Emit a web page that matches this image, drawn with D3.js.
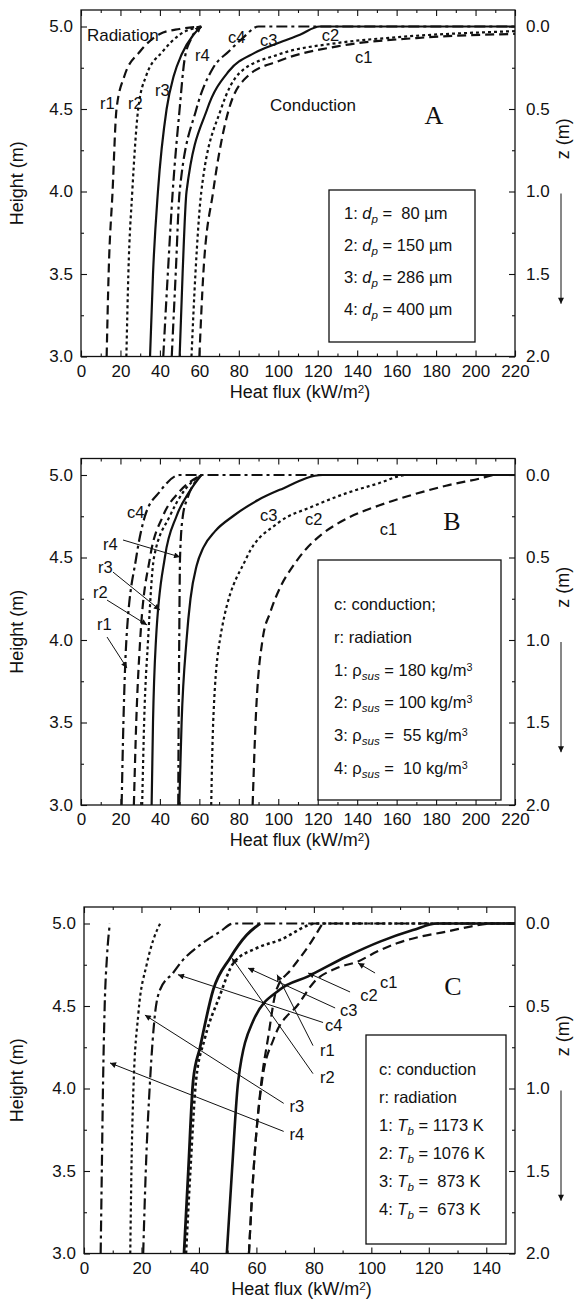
<!DOCTYPE html>
<html>
<head>
<meta charset="utf-8">
<script src="https://cdnjs.cloudflare.com/ajax/libs/d3/7.8.5/d3.min.js"></script>
<style>
body { margin: 0; background: #fff; }
svg text { font-family: "Liberation Sans", Arial, Helvetica, sans-serif; fill: #111; white-space: pre; }
</style>
</head>
<body>
<script>
// tick values
const heightTicks = [3.0, 3.5, 4.0, 4.5, 5.0];
const heightMinor = [3.25, 3.75, 4.25, 4.75];
const zTicks = [0.0, 0.5, 1.0, 1.5, 2.0];
const zMinor = [0.25, 0.75, 1.25, 1.75];
const fluxTicksAB = [0, 20, 40, 60, 80, 100, 120, 140, 160, 180, 200, 220];
const fluxTicksC = [0, 20, 40, 60, 80, 100, 120, 140];

// panel A, curves as [heat flux kW/m2, height m]
const aR1 = [[13,3.0],[14,3.5],[16,4.0],[18,4.5],[22,4.7],[30,4.85],[40,4.955],[50,4.985],[61,5.0]];
const aR2 = [[23,3.0],[24,3.5],[26,4.0],[29,4.5],[33,4.7],[41.5,4.85],[50,4.95],[61,5.0]];
const aR3 = [[35,3.0],[36.5,3.5],[39,4.0],[43.4,4.5],[47,4.7],[51,4.83],[57,4.95],[61,5.0]];
const aR4 = [[41.7,3.0],[44,3.5],[46.5,4.0],[50,4.5],[52.5,4.8],[56,4.93],[61,5.0]];
const aC4 = [[46,3.0],[48,3.5],[50,4.0],[58.5,4.5],[67,4.75],[75,4.85],[82,4.93],[90,5.0],[220,5.0]];
const aC3 = [[50,3.0],[51.5,3.5],[53.5,4.0],[64,4.5],[75,4.73],[88,4.84],[100,4.9],[111,4.95],[121,5.0],[220,5.0]];
const aC2 = [[56,3.0],[58,3.5],[61,4.0],[71,4.5],[80.5,4.72],[100,4.83],[130,4.9],[160,4.935],[220,4.972]];
const aC1 = [[60,3.0],[62,3.5],[67,4.0],[75,4.5],[84.6,4.7],[100,4.79],[130,4.88],[170,4.93],[220,4.955]];

// panel B
const bR1 = [[26.8,3.0],[28,3.5],[30,4.0],[35,4.5],[41.5,4.75],[50,4.9],[61,5.0]];
const bR2 = [[31,3.0],[32,3.5],[34,4.0],[37,4.5],[45,4.75],[52,4.9],[61,5.0]];
const bR3 = [[35.8,3.0],[36.5,3.5],[38,4.0],[42.5,4.5],[48.4,4.75],[55,4.9],[61,5.0]];
const bR4 = [[49.3,3.0],[49.5,3.5],[49.8,4.0],[50.2,4.5],[51.6,4.75],[54,4.86],[58,4.96],[61,5.0]];
const bC4 = [[20.6,3.0],[21.5,3.5],[23,4.0],[28,4.5],[32.4,4.75],[40,4.9],[50,5.0],[220,5.0]];
const bC3 = [[49.8,3.0],[51,3.5],[53.5,4.0],[55.5,4.25],[58.6,4.45],[62,4.56],[68,4.66],[77,4.75],[90,4.85],[100.7,4.91],[122.5,5.0],[220,5.0]];
const bC2 = [[66,3.0],[67,3.5],[70.4,4.0],[84,4.5],[100,4.71],[117.6,4.81],[134.6,4.89],[151,4.95],[165,5.0],[220,5.0]];
const bC1 = [[87,3.0],[88.5,3.5],[92,4.0],[96,4.17],[101,4.32],[107,4.44],[114,4.55],[122,4.64],[134.6,4.735],[151,4.815],[168,4.88],[185,4.935],[202,4.978],[210,5.0],[220,5.0]];

// panel C
const cR4 = [[5.8,3.0],[6.2,3.5],[6.6,4.0],[7.2,4.5],[8,4.8],[9,5.0]];
const cR3 = [[16.1,3.0],[16.5,3.5],[17.2,4.0],[18.9,4.45],[21.8,4.75],[24.1,4.9],[26.5,5.0]];
const cC4 = [[20.6,3.0],[21.5,3.5],[23,4.05],[24.7,4.45],[26.5,4.6],[31,4.7],[34,4.77],[40.4,4.87],[47.3,4.95],[52,5.0],[150,5.0]];
const cR2 = [[34.8,3.0],[36.3,3.5],[38,4.05],[40.4,4.25],[45,4.6],[50.8,4.79],[56.6,4.93],[61.3,5.0]];
const cC3 = [[35.5,3.0],[37,3.5],[39,4.05],[42,4.3],[47,4.55],[52,4.76],[60,4.85],[68.2,4.9],[81,5.0],[150,5.0]];
const cR1 = [[57.4,3.0],[59,3.5],[61.8,4.05],[64,4.3],[67,4.6],[72,4.72],[78,4.86],[83,5.0]];
const cC2 = [[49.7,3.0],[51.5,3.5],[53.7,4.05],[58.9,4.41],[68.2,4.6],[78,4.68],[91.4,4.8],[103,4.89],[114.5,4.96],[122.9,5.0],[150,5.0]];
const cC1 = [[57.4,3.0],[59,3.5],[62,4.05],[66,4.3],[75,4.52],[79.8,4.64],[88,4.73],[95.4,4.77],[102,4.83],[108.9,4.88],[117,4.92],[126,4.95],[134,4.98],[142.4,5.0],[150,5.0]];

// curve labels: [text, flux, height]
const aLabels = [["r1",9.6,4.503],["r2",23.8,4.503],["r3",37.5,4.576],["r4",57.8,4.79],
  ["c4",74.5,4.897],["c3",90.7,4.88],["c2",122,4.91],["c1",138.9,4.776]];
const aNotes = [["Radiation",3,4.915],["Conduction",95.8,4.485]];
const bLabels = [["c4",23.3,4.74],["r4",11.2,4.545],["r3",8.6,4.406],["r2",6.1,4.255],["r1",8.1,4.06],
  ["c3",90.7,4.72],["c2",113.5,4.70],["c1",151.5,4.636]];
const cLabels = [["c1",103,4.61],["c2",96.1,4.53],["c3",89.1,4.44],["c4",83.9,4.35],
  ["r1",82.1,4.197],["r2",82.1,4.033],["r3",71.5,3.858],["r4",71.5,3.688]];

// leader arrows: [fromFlux, fromHeight, toFlux, toHeight]
const bArrows = [[21.3,4.606,50.2,4.503],[16.2,4.412,40,4.182],[13.2,4.242,33.5,4.091],[13.2,4.018,23.3,3.83]];
const cArrows = [[101.3,4.70,95.4,4.76],[92.6,4.585,78,4.70],[87.4,4.488,57.1,4.73],[83.2,4.40,32.7,4.69],
  [79.7,4.26,67.2,4.69],[79.7,4.09,51.5,4.79],[69.5,3.91,21.2,4.445],[69.5,3.74,9.05,4.155]];

// legend values
const dpValues = [" 80", "150", "286", "400"];
const rhoValues = ["180", "100", " 55", " 10"];
const tbValues = ["1173", "1076", " 873", " 673"];

const dashes = { solid: null, dash: "9,5", dot: "3,3", dashdot: "11,4,3,4" };

const svg = d3.select("body").append("svg")
  .attr("width", 576).attr("height", 1313);
svg.append("rect").attr("width", 576).attr("height", 1313).attr("fill", "#fff");
const defs = svg.append("defs");
defs.append("marker")
  .attr("id", "arr")
  .attr("viewBox", "0 0 10 10")
  .attr("refX", 10).attr("refY", 5)
  .attr("markerWidth", 8).attr("markerHeight", 6)
  .attr("markerUnits", "userSpaceOnUse")
  .attr("orient", "auto")
  .append("path").attr("d", "M0,0 L10,5 L0,10 z").attr("fill", "#111");

function sub(text, parts, fs) {
  // parts: [string, italic?, "sub"|"sup"|"back-sub"|"back-sup"]
  parts.forEach(([t, it, pos]) => {
    const ts = text.append("tspan").text(t);
    if (it) ts.attr("font-style", "italic");
    if (pos === "sub") ts.attr("font-size", fs * 0.7).attr("dy", 4);
    if (pos === "sup") ts.attr("font-size", fs * 0.65).attr("dy", -5);
    if (pos === "back-sub") ts.attr("dy", -4);
    if (pos === "back-sup") ts.attr("dy", 5);
  });
}

function drawPanel(p) {
  const x = d3.scaleLinear().domain([0, p.xMax]).range([p.left, p.right]);
  const y = d3.scaleLinear().domain([3, 5.1]).range([p.bottom, p.top]);
  const z = d3.scaleLinear().domain([0, 2]).range([y(5), y(3)]);
  const g = svg.append("g");

  defs.append("clipPath").attr("id", "clip" + p.id)
    .append("rect")
    .attr("x", p.left).attr("y", p.top)
    .attr("width", p.right - p.left).attr("height", p.bottom - p.top);

  const minorX = d3.range(10, p.xMax, 20);
  const fmt1 = d3.format(".1f");

  const axes = [
    [d3.axisBottom(x).tickValues(p.xTicks).tickSize(-6).tickPadding(8).tickFormat(d3.format("d")), `translate(0,${p.bottom})`],
    [d3.axisBottom(x).tickValues(minorX).tickSize(-3).tickFormat(""), `translate(0,${p.bottom})`],
    [d3.axisTop(x).tickValues(p.xTicks).tickSize(-6).tickFormat(""), `translate(0,${p.top})`],
    [d3.axisTop(x).tickValues(minorX).tickSize(-3).tickFormat(""), `translate(0,${p.top})`],
    [d3.axisLeft(y).tickValues(heightTicks).tickSize(-6).tickPadding(8).tickFormat(fmt1), `translate(${p.left},0)`],
    [d3.axisLeft(y).tickValues(heightMinor).tickSize(-3).tickFormat(""), `translate(${p.left},0)`],
    [d3.axisRight(z).tickValues(zTicks).tickSize(-6).tickPadding(11).tickFormat(fmt1), `translate(${p.right},0)`],
    [d3.axisRight(z).tickValues(zMinor).tickSize(-3).tickFormat(""), `translate(${p.right},0)`]
  ];
  axes.forEach(([ax, tr]) => {
    const a = g.append("g").attr("transform", tr).call(ax.tickSizeOuter(0));
    a.select(".domain").remove();
    a.selectAll("line").attr("stroke", "#111").attr("stroke-width", 1.1);
    a.selectAll("text").attr("font-size", 17).attr("font-family", null).attr("fill", "#111");
  });

  g.append("rect")
    .attr("x", p.left).attr("y", p.top)
    .attr("width", p.right - p.left).attr("height", p.bottom - p.top)
    .attr("fill", "none").attr("stroke", "#111").attr("stroke-width", 1.3);

  // curves: flux rises monotonically along each curve, so monotoneX avoids overshoot
  const line = d3.line()
    .x(d => x(d[0])).y(d => y(d[1]))
    .curve(d3.curveMonotoneX);
  const cg = g.append("g").attr("clip-path", `url(#clip${p.id})`);
  p.curves.forEach(c => {
    const path = cg.append("path")
      .attr("d", line(c.data))
      .attr("fill", "none")
      .attr("stroke", "#111")
      .attr("stroke-width", c.w || 2.2)
      .attr("stroke-dasharray", dashes[c.style]);
    if (c.arrow) path.attr("marker-end", "url(#arr)");
  });

  // leader arrows
  (p.arrows || []).forEach(a => {
    g.append("line")
      .attr("x1", x(a[0])).attr("y1", y(a[1]))
      .attr("x2", x(a[2])).attr("y2", y(a[3]))
      .attr("stroke", "#111").attr("stroke-width", 1)
      .attr("marker-end", "url(#arr)");
  });

  p.labels.forEach(l => {
    g.append("text").attr("x", x(l[1])).attr("y", y(l[2]))
      .attr("font-size", 16.5).text(l[0]);
  });
  (p.notes || []).forEach(l => {
    g.append("text").attr("x", x(l[1])).attr("y", y(l[2]))
      .attr("font-size", 17).text(l[0]);
  });

  g.append("text")
    .attr("x", p.letterX).attr("y", p.letterY)
    .attr("text-anchor", "middle")
    .attr("font-size", 26)
    .style("font-family", '"Liberation Serif", "Times New Roman", serif')
    .text(p.id);

  // axis titles
  const xt = g.append("text")
    .attr("x", (p.left + p.right) / 2 + 2).attr("y", p.bottom + 41)
    .attr("text-anchor", "middle").attr("font-size", 18);
  sub(xt, [["Heat flux (kW/m"], ["2", false, "sup"], [")", false, "back-sup"]], 18);

  g.append("text")
    .attr("transform", `translate(23,${(p.top + p.bottom) / 2}) rotate(-90)`)
    .attr("text-anchor", "middle").attr("font-size", 18)
    .text("Height (m)");

  g.append("text")
    .attr("transform", `translate(${p.right + 54},${z(0.68)}) rotate(-90)`)
    .attr("text-anchor", "middle").attr("font-size", 18)
    .text("z (m)");
  g.append("line")
    .attr("x1", p.right + 46).attr("x2", p.right + 46)
    .attr("y1", z(1.0) + 2).attr("y2", z(1.68))
    .attr("stroke", "#111").attr("stroke-width", 1)
    .attr("marker-end", "url(#arr)");

  // legend box
  const lb = p.legend;
  g.append("rect")
    .attr("x", lb.x).attr("y", lb.y).attr("width", lb.w).attr("height", lb.h)
    .attr("fill", "#fff").attr("stroke", "#111").attr("stroke-width", 1.3);
  lb.lines.forEach((parts, i) => {
    const t = g.append("text")
      .attr("x", lb.x + lb.pad).attr("y", lb.y + lb.first + i * lb.step)
      .attr("font-size", 16.5);
    sub(t, parts, 16.5);
  });
}

const panels = [
  {
    id: "A", xMax: 220, xTicks: fluxTicksAB, left: 81, right: 515, top: 10, bottom: 356.5,
    letterX: 434, letterY: 124,
    curves: [
      { data: aR1, style: "dash" }, { data: aR2, style: "dot" }, { data: aR3, style: "solid", arrow: true }, { data: aR4, style: "dashdot" },
      { data: aC4, style: "dashdot" }, { data: aC3, style: "solid" }, { data: aC2, style: "dot" }, { data: aC1, style: "dash" }
    ],
    labels: aLabels, notes: aNotes,
    legend: {
      x: 329, y: 190, w: 146, h: 152, pad: 15, first: 29, step: 32,
      lines: dpValues.map((v, i) => [[`${i + 1}: `], ["d", true], ["p", true, "sub"], [` = ${v} \u00b5m`, false, "back-sub"]])
    }
  },
  {
    id: "B", xMax: 220, xTicks: fluxTicksAB, left: 81, right: 515, top: 458.5, bottom: 805,
    letterX: 452, letterY: 530,
    curves: [
      { data: bR1, style: "dash" }, { data: bR2, style: "dot" }, { data: bR3, style: "solid" }, { data: bR4, style: "dashdot" },
      { data: bC4, style: "dashdot" }, { data: bC3, style: "solid" }, { data: bC2, style: "dot" }, { data: bC1, style: "dash" }
    ],
    labels: bLabels, arrows: bArrows,
    legend: {
      x: 318, y: 560, w: 183, h: 240, pad: 16, first: 50, step: 32.8,
      lines: [[["c: conduction;"]], [["r: radiation"]]].concat(
        rhoValues.map((v, i) => [[`${i + 1}: \u03c1`], ["sus", true, "sub"], [` = ${v} kg/m`, false, "back-sub"], ["3", false, "sup"]]))
    }
  },
  {
    id: "C", xMax: 150, xTicks: fluxTicksC, left: 84, right: 515, top: 907, bottom: 1253.5,
    letterX: 453, letterY: 995,
    curves: [
      { data: cR4, style: "dashdot" }, { data: cR3, style: "dot" }, { data: cC4, style: "dashdot" },
      { data: cR2, style: "solid", w: 2.8 }, { data: cC3, style: "dot", w: 2.6 }, { data: cR1, style: "dash" },
      { data: cC2, style: "solid", w: 2.6 }, { data: cC1, style: "dash" }
    ],
    labels: cLabels, arrows: cArrows,
    legend: {
      x: 366, y: 1035, w: 140, h: 209, pad: 13, first: 40, step: 28,
      lines: [[["c: conduction"]], [["r: radiation"]]].concat(
        tbValues.map((v, i) => [[`${i + 1}: `], ["T", true], ["b", true, "sub"], [` = ${v} K`, false, "back-sub"]]))
    }
  }
];

panels.forEach(drawPanel);
</script>
</body>
</html>
